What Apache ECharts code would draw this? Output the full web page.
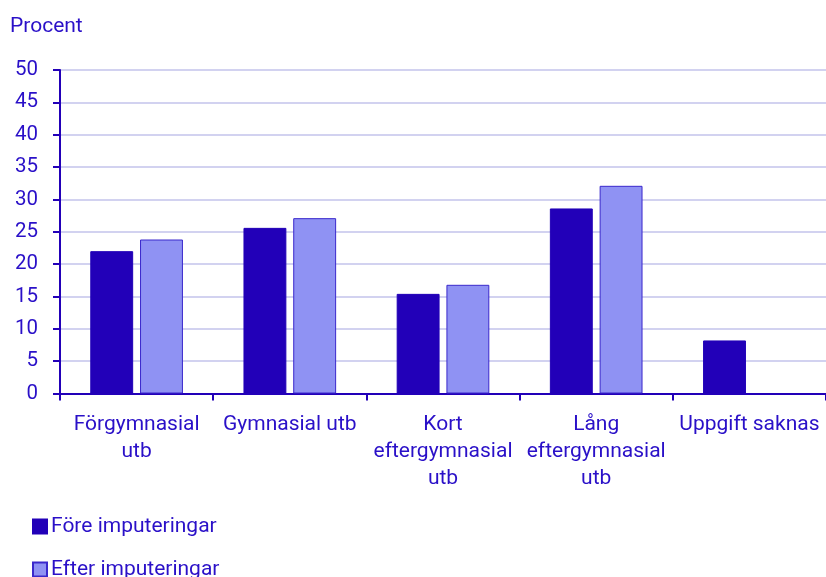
<!DOCTYPE html>
<html>
<head>
<meta charset="utf-8">
<script src="https://cdn.jsdelivr.net/npm/echarts@6/dist/echarts.min.js"></script>
<style>
	html, body { margin: 0; padding: 0; background: #fff; }
	#chart { width: 826px; height: 577px; }
</style>
</head>
<body>
<div id="chart"></div>
<script>
var categories = ['Förgymnasial\nutb', 'Gymnasial utb', 'Kort\neftergymnasial\nutb', 'Lång\neftergymnasial\nutb', 'Uppgift saknas']
var fore = [22.0, 25.6, 15.4, 28.6, 8.2]
var efter = [23.8, 27.1, 16.8, 32.1, null]
var seriesNames = ['Före imputeringar', 'Efter imputeringar']

var textColor = '#2a10c8'
var axisColor = '#2200b8'
var font = 'Roboto'

// one legend per row, stacked like the original
function legendRow(name, top){
	return {
		left: 32,
		top: top,
		padding: 0,
		itemWidth: 14,
		itemHeight: 14,
		icon: 'rect',
		textStyle: { color: textColor, fontSize: 21, fontFamily: font, padding: [0, 0, 0, -1] },
		data: [name]
	}
}

var myChart = echarts.init(document.getElementById('chart'))
myChart.setOption({
	animation: false,
	textStyle: { fontFamily: font },
	title: {
		text: 'Procent',
		left: 5,
		top: 11,
		textStyle: { color: textColor, fontSize: 21, fontWeight: 'normal', fontFamily: font }
	},
	legend: [legendRow(seriesNames[0], 516), legendRow(seriesNames[1], 559)],
	grid: {
		left: 60,
		right: 0,
		top: 70,
		bottom: 183.5,
		containLabel: false
	},
	xAxis: {
		type: 'category',
		data: categories,
		axisLine: { lineStyle: { color: axisColor, width: 2 } },
		axisTick: { show: true, length: 7, lineStyle: { color: axisColor, width: 2 } },
		axisLabel: {
			color: textColor,
			fontSize: 21,
			fontFamily: font,
			lineHeight: 27,
			margin: 18,
			interval: 0
		}
	},
	yAxis: {
		type: 'value',
		min: 0,
		max: 50,
		interval: 5,
		axisLine: { show: true, lineStyle: { color: axisColor, width: 2 } },
		axisTick: { show: true, length: 7, lineStyle: { color: axisColor, width: 2 } },
		axisLabel: { color: textColor, fontSize: 20.5, fontFamily: font, margin: 22 },
		splitLine: { lineStyle: { color: '#d2d2f0', width: 2 } }
	},
	series: [{
		name: seriesNames[0],
		type: 'bar',
		barWidth: '28%',
		barGap: '16%',
		itemStyle: { color: '#2200b8', borderColor: '#2200b8', borderWidth: 1 },
		data: fore
	}, {
		name: seriesNames[1],
		type: 'bar',
		barWidth: '28%',
		itemStyle: { color: '#8f92f3', borderColor: '#3a28cc', borderWidth: 1 },
		data: efter
	}]
})
</script>
</body>
</html>
